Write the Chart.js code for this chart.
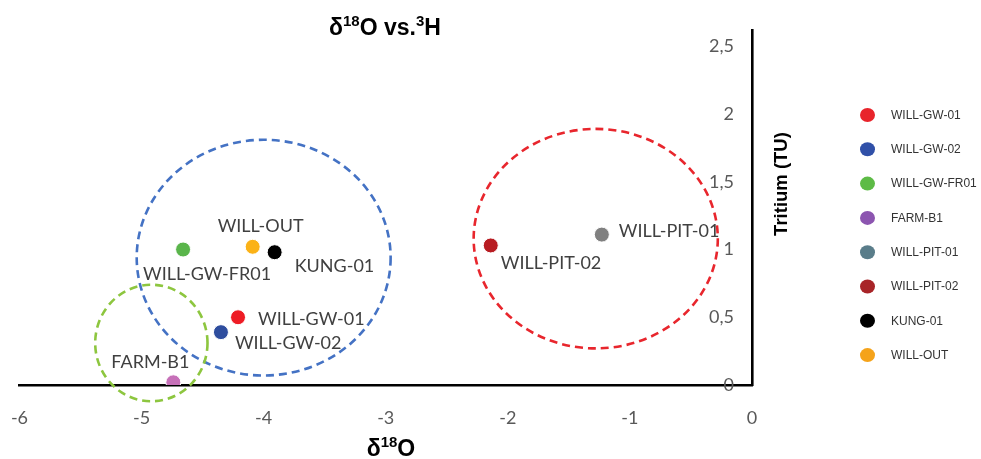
<!DOCTYPE html>
<html>
<head>
<meta charset="utf-8">
<script src="https://cdn.jsdelivr.net/npm/chart.js@4"></script>
<style>
  html, body { margin: 0; padding: 0; background: #ffffff; }
  #wrap { width: 981px; height: 459px; }
</style>
</head>
<body>
<div id="wrap"><canvas id="chart" width="981" height="459"></canvas></div>
<script>
// Samples: oxygen-18 (per mil) against tritium (TU)
const sampleNames = ['WILL-GW-01', 'WILL-GW-02', 'WILL-GW-FR01', 'FARM-B1', 'WILL-PIT-01', 'WILL-PIT-02', 'KUNG-01', 'WILL-OUT'];
const delta18O = [-4.21, -4.35, -4.66, -4.74, -1.23, -2.14, -3.91, -4.09];
const tritium = [0.50, 0.39, 1.00, 0.02, 1.11, 1.03, 0.98, 1.02];

// Axis ticks
const xTickValues = [-6, -5, -4, -3, -2, -1, 0];
const yTickValues = [0, 0.5, 1, 1.5, 2, 2.5];
const yTickLabels = ['0', '0,5', '1', '1,5', '2', '2,5'];

// Dashed group outlines, in axis units (centre and half extents)
const groupNames = ['groundwater', 'pits', 'farm'];
const groupCentreX = [-4.0, -1.28, -4.92];
const groupCentreY = [0.94, 1.08, 0.31];
const groupHalfX = [1.04, 1.0, 0.46];
const groupHalfY = [0.87, 0.81, 0.43];

// Styling
const pointColors = ['#ee1c25', '#2e4d9e', '#5ab54b', '#c670b8', '#808080', '#b81c22', '#000000', '#fbb217'];
const legendColors = ['#e8242b', '#3050a8', '#5dbb46', '#8c55b0', '#5a7d8a', '#a82428', '#000000', '#f5a31a'];
const groupColors = ['#4472c4', '#e8262d', '#8dc63f'];
// label placement next to each point: [dx, dy to cap centre, align]
const labelOffsets = {
  'WILL-GW-01':   [20, 1, 'left'],
  'WILL-GW-02':   [14, 10, 'left'],
  'WILL-GW-FR01': [-40, 24, 'left'],
  'FARM-B1':      [-62, -21, 'left'],
  'WILL-PIT-01':  [17, -4, 'left'],
  'WILL-PIT-02':  [10, 17, 'left'],
  'KUNG-01':      [20, 13, 'left'],
  'WILL-OUT':     [-35, -21, 'left']
};

const datasets = sampleNames.map((name, i) => ({
  label: name,
  data: [{ x: delta18O[i], y: tritium[i] }],
  backgroundColor: pointColors[i],
  borderColor: '#ffffff',
  borderWidth: 1,
  pointRadius: 7.5,
  pointHoverRadius: 7.5
}));

// Writes a run of text pieces, some raised as superscripts
function drawRichText(ctx, parts, cx, baseline, size, supSize) {
  const big = 'bold ' + size + 'px "Liberation Sans", Arial, sans-serif';
  const small = 'bold ' + supSize + 'px "Liberation Sans", Arial, sans-serif';
  let total = 0;
  parts.forEach(p => { ctx.font = p[1] ? small : big; total += ctx.measureText(p[0]).width; });
  let x = cx - total / 2;
  ctx.textAlign = 'left';
  ctx.textBaseline = 'alphabetic';
  parts.forEach(p => {
    ctx.font = p[1] ? small : big;
    ctx.fillText(p[0], x, p[1] ? baseline - size * 0.38 : baseline);
    x += ctx.measureText(p[0]).width;
  });
}

const groupOutlines = {
  id: 'groupOutlines',
  beforeDatasetsDraw(chart) {
    const { ctx, scales: { x, y } } = chart;
    ctx.save();
    ctx.lineWidth = 2.6;
    ctx.setLineDash([8, 5]);
    groupNames.forEach((g, i) => {
      const cx = x.getPixelForValue(groupCentreX[i]);
      const cy = y.getPixelForValue(groupCentreY[i]);
      const rx = Math.abs(x.getPixelForValue(groupCentreX[i] + groupHalfX[i]) - cx);
      const ry = Math.abs(y.getPixelForValue(groupCentreY[i] + groupHalfY[i]) - cy);
      ctx.strokeStyle = groupColors[i];
      ctx.beginPath();
      ctx.ellipse(cx, cy, rx, ry, 0, 0, Math.PI * 2);
      ctx.stroke();
    });
    ctx.restore();
  }
};

const pointLabels = {
  id: 'pointLabels',
  afterDatasetsDraw(chart) {
    const ctx = chart.ctx;
    ctx.save();
    ctx.font = '18px Lato, "Open Sans", sans-serif';
    ctx.fillStyle = '#404040';
    ctx.textBaseline = 'alphabetic';
    chart.data.datasets.forEach((ds, i) => {
      const el = chart.getDatasetMeta(i).data[0];
      const off = labelOffsets[ds.label];
      ctx.textAlign = off[2];
      ctx.fillText(ds.label, el.x + off[0], el.y + off[1] + 6.5);
    });
    ctx.restore();
  }
};

const sideLegend = {
  id: 'sideLegend',
  afterDraw(chart) {
    const ctx = chart.ctx;
    ctx.save();
    ctx.font = '12px "Liberation Sans", Arial, sans-serif';
    ctx.textAlign = 'left';
    ctx.textBaseline = 'middle';
    chart.data.datasets.forEach((ds, i) => {
      const cy = 115 + i * 34.3;
      ctx.fillStyle = legendColors[i];
      ctx.beginPath();
      ctx.ellipse(867.5, cy, 7.5, 7, 0, 0, Math.PI * 2);
      ctx.fill();
      ctx.fillStyle = '#333333';
      ctx.fillText(ds.label, 891, cy + 0.5);
    });
    ctx.restore();
  }
};

const titles = {
  id: 'titles',
  afterDraw(chart) {
    const ctx = chart.ctx;
    ctx.save();
    ctx.fillStyle = '#000000';
    drawRichText(ctx, [['δ', false], ['18', true], ['O vs.', false], ['3', true], ['H', false]], 385, 35, 23, 15);
    drawRichText(ctx, [['δ', false], ['18', true], ['O', false]], 391, 456, 23, 15);
    ctx.translate(782, 184);
    ctx.rotate(-Math.PI / 2);
    ctx.font = 'bold 18.5px "Liberation Sans", Arial, sans-serif';
    ctx.textAlign = 'center';
    ctx.textBaseline = 'middle';
    ctx.fillText('Tritium (TU)', 0, 0);
    ctx.restore();
  }
};

new Chart(document.getElementById('chart'), {
  type: 'scatter',
  data: { datasets },
  options: {
    responsive: false,
    animation: false,
    events: [],
    layout: { padding: { left: 19.5, top: 30, right: 0, bottom: 0 } },
    plugins: {
      legend: { display: false },
      title: { display: false },
      tooltip: { enabled: false }
    },
    scales: {
      x: {
        type: 'linear',
        position: 'bottom',
        min: -6,
        max: 0,
        afterFit: s => { s.height = 74; s.paddingLeft = 0; s.paddingRight = 0; },
        afterBuildTicks: s => { s.ticks = xTickValues.map(v => ({ value: v })); },
        grid: { display: false, drawTicks: false },
        border: { display: true, color: '#000000', width: 2.6 },
        ticks: {
          font: { family: 'Lato', size: 18 },
          color: '#595959',
          padding: 22,
          callback: v => String(v)
        }
      },
      y: {
        type: 'linear',
        position: 'right',
        min: 0,
        max: 2.62,
        afterFit: s => { s.width = 229; s.paddingTop = 0; s.paddingBottom = 0; },
        afterBuildTicks: s => { s.ticks = yTickValues.map(v => ({ value: v })); },
        grid: { display: false, drawTicks: false },
        border: { display: true, color: '#000000', width: 2.6 },
        ticks: {
          mirror: true,
          font: { family: 'Lato', size: 18 },
          color: '#595959',
          padding: -18,
          callback: (v, i) => yTickLabels[i]
        }
      }
    }
  },
  plugins: [groupOutlines, pointLabels, sideLegend, titles]
});
</script>
</body>
</html>
